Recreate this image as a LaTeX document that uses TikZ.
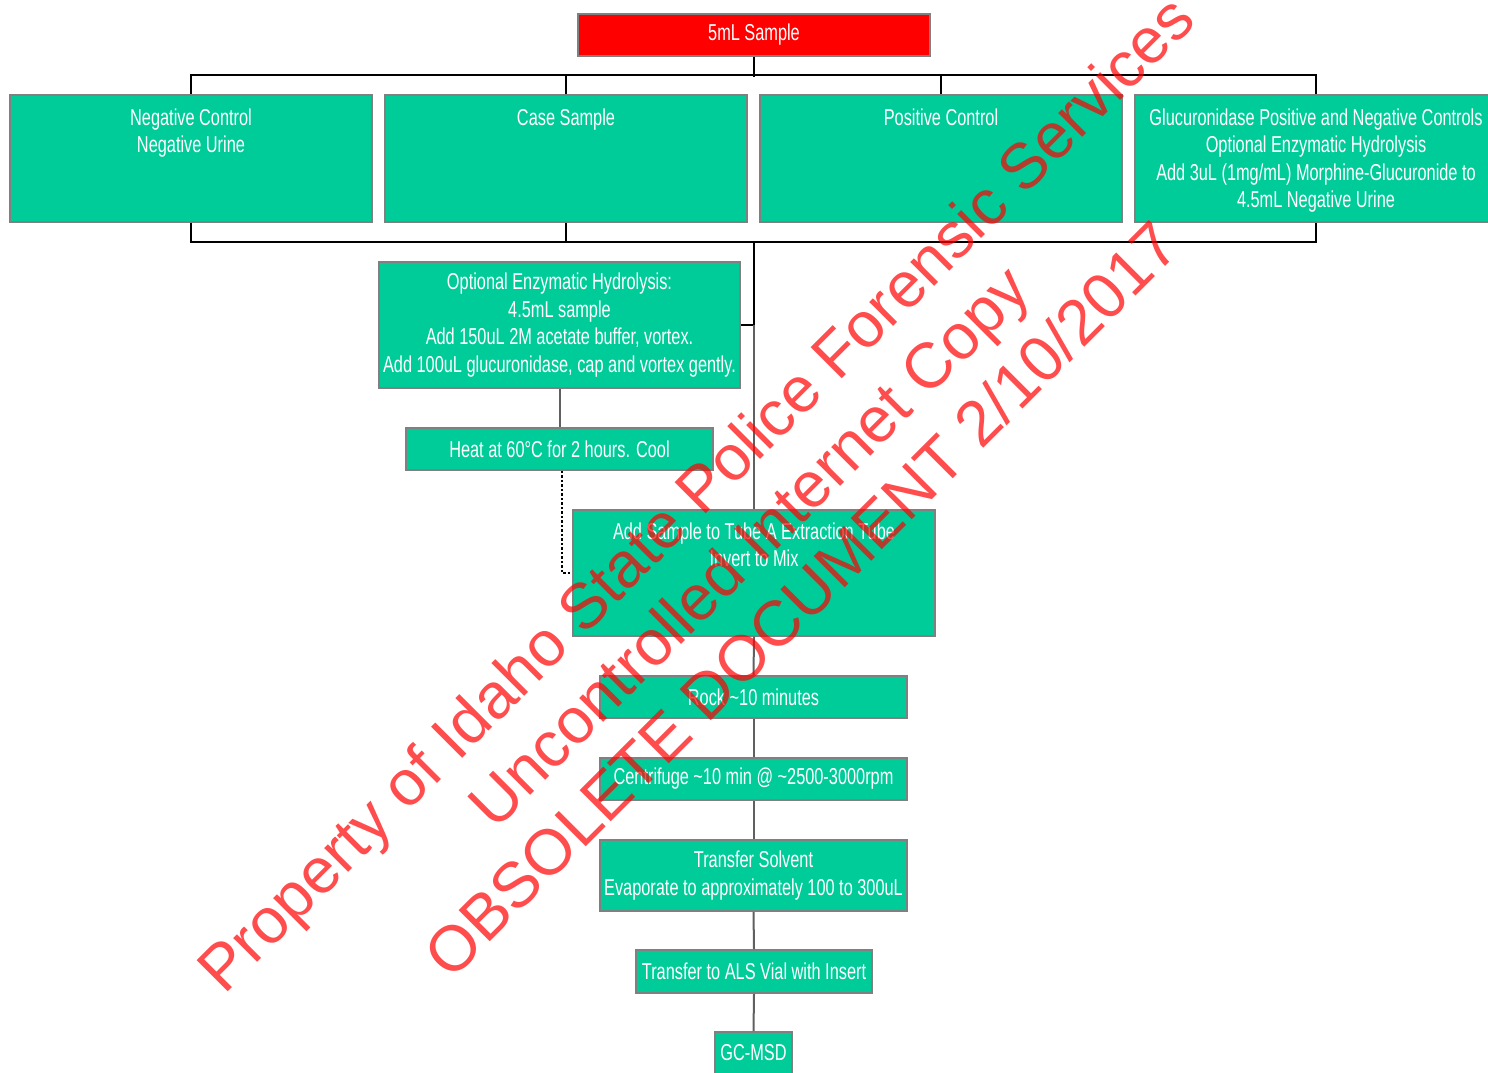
\documentclass[tikz,border=0pt]{standalone}
\usepackage{fontspec}
\newfontfamily\boxfont{Liberation Sans}[FakeStretch=0.71]
\newfontfamily\markfont{Liberation Sans}
\definecolor{boxgreen}{RGB}{0,204,153}
\definecolor{boxgray}{RGB}{128,128,128}
\definecolor{flowgray}{RGB}{96,96,96}
\tikzset{
  stepbox/.style={draw=boxgray,line width=1.6pt,fill=boxgreen,text=white,inner sep=0pt,align=center,
    font=\boxfont\fontsize{23}{27.6}\selectfont},
  topline/.style={black,line width=1.5pt},
  flowline/.style={flowgray,line width=2pt},
  markstyle/.style={rotate=45,text=red,text opacity=0.7,align=center,inner sep=0pt,
    font=\markfont\fontsize{64}{75}\selectfont}
}

\begin{document}
\begin{tikzpicture}[x=1pt,y=-1pt]
        \useasboundingbox (0,0) rectangle (1488,1073);
        \clip (0,0) rectangle (1488,1073);
        \node[stepbox,fill=red,minimum width=352,minimum height=42] (sample) at (754,35) {5mL Sample};
        \node[stepbox,minimum width=362,minimum height=127] (negc) at (191,158.5) {\parbox[t][127pt][t]{362pt}{\centering\rule{0pt}{30pt}Negative Control\\Negative Urine}};
        \node[stepbox,minimum width=362,minimum height=127] (case) at (566,158.5) {\parbox[t][127pt][t]{362pt}{\centering\rule{0pt}{30pt}Case Sample}};
        \node[stepbox,minimum width=362,minimum height=127] (posc) at (941,158.5) {\parbox[t][127pt][t]{362pt}{\centering\rule{0pt}{30pt}Positive Control}};
        \node[stepbox,minimum width=362,minimum height=127] (gluc) at (1316,158.5) {\parbox[t][127pt][t]{362pt}{\centering\rule{0pt}{30pt}Glucuronidase Positive and Negative Controls\\Optional Enzymatic Hydrolysis\\Add 3uL (1mg/mL) Morphine-Glucuronide to\\4.5mL Negative Urine}};
        \node[stepbox,minimum width=361,minimum height=126] (hydro) at (559.5,325) {Optional Enzymatic Hydrolysis:\\4.5mL sample\\Add 150uL 2M acetate buffer, vortex.\\Add 100uL glucuronidase, cap and vortex gently.};
        \node[stepbox,minimum width=307,minimum height=42] (heat) at (559.5,449) {Heat at 60°C for 2 hours. Cool};
        \node[stepbox,minimum width=362,minimum height=126] (tube) at (754,573) {\parbox[t][126pt][t]{362pt}{\centering\rule{0pt}{29pt}Add Sample to Tube A Extraction Tube\\Invert to Mix}};
        \node[stepbox,minimum width=307,minimum height=42] (rock) at (753.5,697) {Rock \textasciitilde10 minutes};
        \node[stepbox,minimum width=307,minimum height=42] (spin) at (753.5,779) {Centrifuge \textasciitilde10 min @ \textasciitilde2500-3000rpm};
        \node[stepbox,minimum width=307,minimum height=71] (solv) at (753.5,875.5) {Transfer Solvent\\Evaporate to approximately 100 to 300uL};
        \node[stepbox,minimum width=236,minimum height=43] (vial) at (754,971.5) {Transfer to ALS Vial with Insert};
        \node[stepbox,minimum width=77,minimum height=42] (gcms) at (753.5,1053) {GC-MSD};
        % top bar
        \draw[topline] (sample.south) -- ++(0,20);
        \draw[topline] (negc.north) -- ++(0,-19) -| (gluc.north);
        \draw[topline] (case.north) -- ++(0,-19);
        \draw[topline] (posc.north) -- ++(0,-19);
        % bottom bar
        \draw[topline] (negc.south) -- ++(0,19) coordinate (low) -| (gluc.south);
        \draw[topline] (case.south) -- ++(0,19);
        \draw[topline] (low -| tube.north) -- (hydro.east -| tube.north) -- (hydro.east);
        \draw[flowline] (hydro.east -| tube.north) -- (tube.north);
        \draw[flowline] (hydro.south) -- (heat.north);
        \draw[black,line width=2.5pt,dash pattern=on 2.5pt off 2pt] ([xshift=2.5]heat.south) |- (tube.west);
        \draw[flowline] (tube.south) -- (rock.north);
        \draw[flowline] (rock.south) -- (spin.north);
        \draw[flowline] (spin.south) -- (solv.north);
        \draw[flowline] (solv.south) -- (vial.north);
        \draw[flowline] (vial.south) -- (gcms.north);
        % watermark
        \node[markstyle] (mark) at (748,546) {Property of Idaho State Police Forensic Services\\Uncontrolled Internet Copy\\OBSOLETE DOCUMENT 2/10/2017};
    \end{tikzpicture}
\end{document}
